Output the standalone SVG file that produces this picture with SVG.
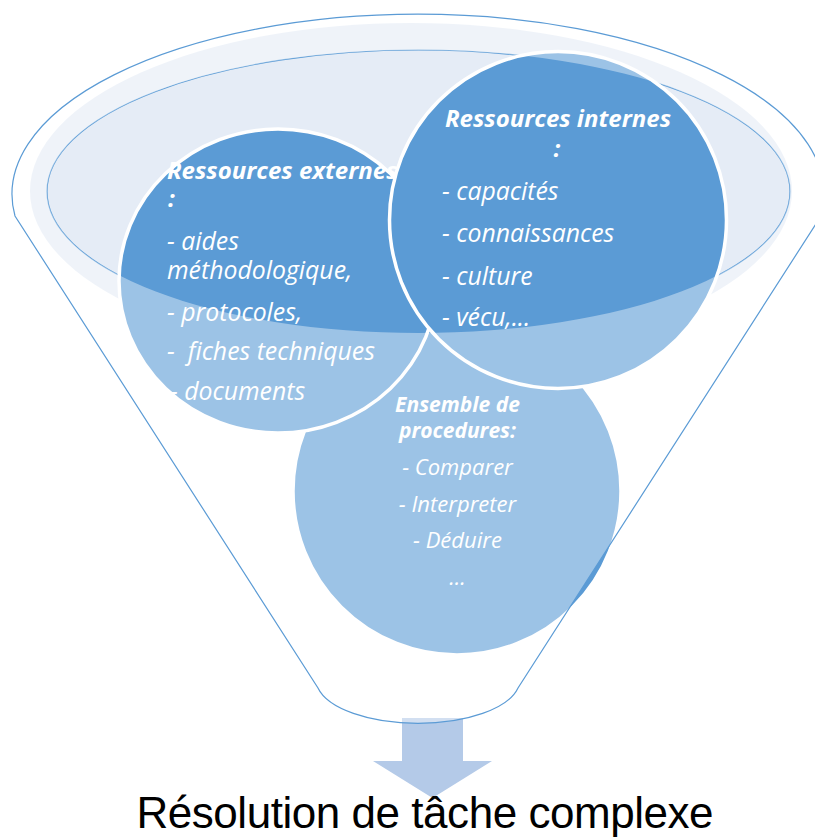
<svg xmlns="http://www.w3.org/2000/svg" width="815" height="837" viewBox="0 0 815 837">
<defs>
<style>
.c{fill:#5B9BD5;stroke:#FFFFFF;stroke-width:3.5}
.h{font-family:"Open Sans","Liberation Sans",sans-serif;font-weight:bold;font-style:italic;fill:#FFFFFF}
.t{font-family:"Open Sans","Liberation Sans",sans-serif;font-style:italic;fill:#FFFFFF}
.ln{fill:none;stroke:#5B9BD5;stroke-width:1.2}
.tint{fill:#E5ECF6}
</style>
</defs>
<rect width="815" height="837" fill="#FFFFFF"/>
<g id="funnel-back">
<ellipse class="tint" cx="411" cy="191" rx="381" ry="168"/>
<ellipse class="tint" cx="418.5" cy="191.5" rx="371.5" ry="141.5"/>
<ellipse class="ln" cx="418.5" cy="191.5" rx="371.5" ry="141.5"/>
</g>
<g id="connectors">
<polygon points="402,718 463,718 463,761 492,761 432.5,798 373,761 402,761" fill="#B4CAE8"/>
</g>
<g id="node-procedures">
<circle class="c" cx="457" cy="491" r="164"/>
<g class="h" font-size="21" text-anchor="middle">
<text x="457.5" y="412">Ensemble de</text>
<text x="457.5" y="438">procedures:</text>
</g>
<g class="t" font-size="22" text-anchor="middle">
<text x="457.5" y="475">- Comparer</text>
<text x="457.5" y="512">- Interpreter</text>
<text x="457.5" y="548">- Déduire</text>
<text x="457.5" y="585">...</text>
</g>
</g>
<g id="node-externes">
<ellipse class="c" cx="278" cy="281" rx="159" ry="152"/>
<g class="h" font-size="24">
<text x="167" y="179">Ressources externes</text>
<text x="168" y="207">:</text>
</g>
<g class="t" font-size="24.8">
<text x="167" y="250">- aides</text>
<text x="167" y="279">méthodologique,</text>
<text x="167" y="321">- protocoles,</text>
<text x="167" y="360" style="white-space:pre">-  fiches techniques</text>
<text x="170" y="400">- documents</text>
</g>
</g>
<g id="node-internes">
<circle class="c" cx="558" cy="220" r="168.5"/>
<g class="h" font-size="24" text-anchor="middle">
<text x="558" y="127">Ressources internes</text>
<text x="557" y="157">:</text>
</g>
<g class="t" font-size="24.8">
<text x="442" y="200">- capacités</text>
<text x="442" y="242">- connaissances</text>
<text x="442" y="285">- culture</text>
<text x="442" y="326">- vécu,...</text>
</g>
</g>
<g id="funnel-front">
<path d="M15,216 A406,180 0 1 1 821,216 L518,688 A102,44 0 0 1 318,688 Z M47,191.5 A371.5,141.5 0 1 0 790,191.5 A371.5,141.5 0 1 0 47,191.5 Z" fill="#FFFFFF" fill-opacity="0.4" fill-rule="evenodd"/>
<path class="ln" d="M15,216 A406,180 0 1 1 821,216 L518,688 A102,44 0 0 1 318,688 Z"/>
</g>
<text id="result" x="136.5" y="828" font-family="'Liberation Sans',Arial,sans-serif" font-size="44" textLength="577" fill="#000000">Résolution de tâche complexe</text>
</svg>
